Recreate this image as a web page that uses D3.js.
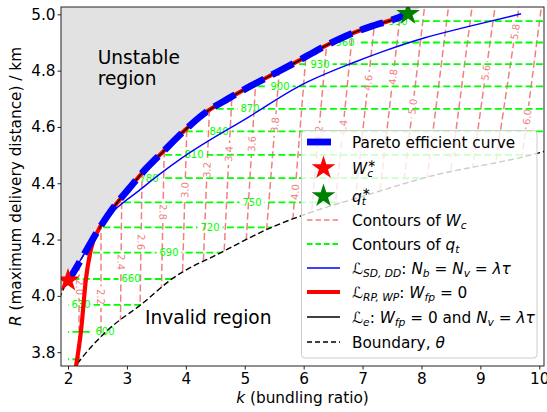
<!doctype html>
<html lang="en">

<head>
    <meta charset="UTF-8" />
    <script src="https://d3js.org/d3.v7.min.js"></script>
    <title>Pareto efficient curve</title>
    <style>
        body { margin: 0; background: #fff; }
        svg text { font-family: "DejaVu Sans", sans-serif; }
    </style>
</head>

<body>
    <div id="chart"></div>
    <script>
        // ---- data (k = bundling ratio, R = max delivery distance) ----
        const xTicks = [2, 3, 4, 5, 6, 7, 8, 9, 10]
        const yTicks = [3.8, 4.0, 4.2, 4.4, 4.6, 4.8, 5.0]

        // Pareto efficient curve (upper edge of the valid region)
        const paretoK = [1.983, 2.085, 2.306, 2.526, 2.764, 3.019, 3.290, 3.613, 3.935, 4.326, 4.716, 5.107, 5.497, 5.887, 6.278, 6.686, 7.127, 7.569, 7.772]
        const paretoR = [4.049, 4.081, 4.160, 4.238, 4.312, 4.377, 4.444, 4.512, 4.579, 4.650, 4.700, 4.746, 4.789, 4.832, 4.878, 4.920, 4.956, 4.985, 5.002]

        // L_SD,DD : N_b = N_v = lambda tau
        const sdK = [1.983, 2.306, 2.526, 3.290, 3.935, 5.073, 5.973, 6.839, 7.399, 8.044, 8.825, 9.691]
        const sdR = [4.049, 4.160, 4.238, 4.388, 4.490, 4.636, 4.750, 4.828, 4.872, 4.916, 4.958, 5.002]

        // L_RP,WP : lower branch, it then runs on the Pareto curve
        const rpK = [2.127, 2.221, 2.306, 2.390]
        const rpR = [3.739, 3.876, 4.063, 4.166]

        // Boundary theta (lower)
        const bndK = [2.068, 2.221, 2.662, 3.256, 3.783, 4.581, 5.430, 5.990, 7.025, 8.044, 9.997, 10.115]
        const bndR = [3.733, 3.776, 3.876, 3.972, 4.063, 4.152, 4.241, 4.287, 4.355, 4.419, 4.508, 4.515]

        // contours of q_t (horizontal)
        const qtLevels = [570, 600, 630, 660, 690, 720, 750, 780, 810, 840, 870, 900, 930, 960, 990]
        const qtR = [3.775, 3.872, 3.968, 4.060, 4.154, 4.243, 4.332, 4.418, 4.501, 4.584, 4.664, 4.744, 4.823, 4.900, 4.976]
        const qtLabelK = [null, 2.628, 2.221, 3.070, 3.715, 4.411, 5.124, 3.375, 4.139, 4.564, 5.090, 5.599, 6.278, 6.703, 7.603]

        // contours of W_c: k where each contour crosses R = 4.0 and R = 5.0, and label height
        const wcLevels = [2.0, 2.2, 2.4, 2.6, 2.8, 3.0, 3.2, 3.4, 3.6, 3.8, 4.0, 4.2, 4.4, 4.6, 4.8, 5.0, 5.2, 5.4, 5.6, 5.8, 6.0]
        const wcK40 = [2.187, 2.560, 2.895, 3.226, 3.584, 3.932, 4.275, 4.613, 4.969, 5.282, 5.713, 6.007, 6.384, 6.696, 7.090, 7.474, 7.847, 8.222, 8.564, 8.922, 9.402]
        const wcK50 = [2.187, 2.560, 2.942, 3.299, 3.679, 4.076, 4.465, 4.851, 5.255, 5.664, 6.095, 6.436, 6.861, 7.221, 7.640, 8.037, 8.443, 8.842, 9.231, 9.637, 10.019]
        const wcLabelR = [4.031, 3.996, 4.120, 4.191, 4.298, 4.376, 4.447, 4.504, 4.540, 4.607, 4.369, 4.576, 4.597, 4.757, 4.778, 4.672, 4.543, 4.518, 4.793, 4.938, 4.636]

        const starWc = [2.0, 4.055]
        const starQt = [7.772, 5.002]

        // ---- layout ----
        const W = 547, H = 412
        const margin = { top: 7, right: 3, bottom: 46, left: 61 }
        const width = W - margin.left - margin.right
        const height = H - margin.top - margin.bottom

        const x = d3.scaleLinear().domain([1.881, 10.08]).range([0, width])
        const y = d3.scaleLinear().domain([3.751, 5.026]).range([height, 0])

        const zip = (a, b) => a.map((v, i) => [v, b[i]])
        const pareto = zip(paretoK, paretoR)
        const line = d3.line().x(d => x(d[0])).y(d => y(d[1])).curve(d3.curveMonotoneX)
        const poly = d3.line().x(d => x(d[0])).y(d => y(d[1]))

        const svg = d3.select("#chart").append("svg")
            .attr("width", W).attr("height", H)
        const defs = svg.append("defs")
        const g = svg.append("g").attr("transform", `translate(${margin.left},${margin.top})`)

        defs.append("clipPath").attr("id", "plot")
            .append("rect").attr("width", width).attr("height", height)

        // valid region between the Pareto curve and the lower boundary, k >= 2
        const validPoly = [[2.0, 3.70]]
            .concat(zip(bndK, bndR))
            .concat([[10.3, 4.52], [10.3, 5.2], [8.2, 5.2], [8.05, 5.03]])
            .concat(pareto.filter(d => d[0] >= 2).reverse())
            .concat([[2.0, 4.055]])
        defs.append("clipPath").attr("id", "valid")
            .append("path").attr("d", poly(validPoly))

        const plot = g.append("g").attr("clip-path", "url(#plot)")

        // unstable region
        const grayPoly = [[1.85, 3.998]].concat(pareto).concat([[8.05, 5.03], [8.1, 5.2], [1.85, 5.2]])
        plot.append("path").attr("d", poly(grayPoly)).attr("fill", "#e2e2e2")

        // ---- contours ----
        const fsLab = 10
        const redMask = defs.append("mask").attr("id", "redMask").attr("maskUnits", "userSpaceOnUse")
            .attr("x", -10).attr("y", -10).attr("width", width + 20).attr("height", height + 20)
        redMask.append("rect").attr("x", -10).attr("y", -10).attr("width", width + 20).attr("height", height + 20).attr("fill", "white")
        const greenMask = defs.append("mask").attr("id", "greenMask").attr("maskUnits", "userSpaceOnUse")
            .attr("x", -10).attr("y", -10).attr("width", width + 20).attr("height", height + 20)
        greenMask.append("rect").attr("x", -10).attr("y", -10).attr("width", width + 20).attr("height", height + 20).attr("fill", "white")

        const contG = plot.append("g").attr("clip-path", "url(#valid)")
        const labG = plot.append("g")

        const wcAt = (i, R) => wcK40[i] + (wcK50[i] - wcK40[i]) * (R - 4.0)

        const redLines = contG.append("g").attr("mask", "url(#redMask)")
        wcLevels.forEach((lev, i) => {
            redLines.append("line")
                .attr("x1", x(wcAt(i, 3.65))).attr("y1", y(3.65))
                .attr("x2", x(wcAt(i, 5.1))).attr("y2", y(5.1))
                .attr("stroke", "lightcoral").attr("stroke-width", 1.5)
                .attr("stroke-dasharray", "7,3.3")

            const lx = x(wcAt(i, wcLabelR[i])), ly = y(wcLabelR[i])
            let ang = Math.atan2(y(5) - y(4), x(wcK50[i]) - x(wcK40[i])) * 180 / Math.PI
            if (lev <= 2.8) ang += 180
            const t = labG.append("text")
                .attr("transform", `translate(${lx},${ly}) rotate(${ang})`)
                .attr("text-anchor", "middle").attr("dy", "0.35em")
                .attr("font-size", fsLab).attr("fill", "lightcoral")
                .text(lev.toFixed(1))
            const tw = t.node().getComputedTextLength()
            redMask.append("rect")
                .attr("transform", `translate(${lx},${ly}) rotate(${ang})`)
                .attr("x", -tw / 2 - 3).attr("y", -4.5).attr("width", tw + 6).attr("height", 9)
                .attr("fill", "black")
        })

        const greenLines = contG.append("g").attr("mask", "url(#greenMask)")
        qtLevels.forEach((lev, i) => {
            greenLines.append("line")
                .attr("x1", x(1.9)).attr("y1", y(qtR[i]))
                .attr("x2", x(10.3)).attr("y2", y(qtR[i]))
                .attr("stroke", "#00ff00").attr("stroke-width", 1.8)
                .attr("stroke-dasharray", "7,3.3")
            if (qtLabelK[i] === null) return
            const lx = x(qtLabelK[i]), ly = y(qtR[i])
            const t = labG.append("text")
                .attr("x", lx).attr("y", ly).attr("dy", "0.35em")
                .attr("text-anchor", "middle")
                .attr("font-size", fsLab).attr("fill", "#00ff00")
                .text(lev)
            const tw = t.node().getComputedTextLength()
            greenMask.append("rect")
                .attr("x", lx - tw / 2 - 3).attr("y", ly - 4).attr("width", tw + 6).attr("height", 8)
                .attr("fill", "black")
        })

        // ---- curves ----
        // lower boundary theta
        plot.append("path").attr("d", line(zip(bndK, bndR)))
            .attr("fill", "none").attr("stroke", "black").attr("stroke-width", 1.4)
            .attr("stroke-dasharray", "6,3")
        // upper boundary (edge of unstable region)
        plot.append("path").attr("d", line([[1.85, 3.99]].concat(pareto.slice(0, 4))))
            .attr("fill", "none").attr("stroke", "black").attr("stroke-width", 1.4)
            .attr("stroke-dasharray", "6,3")

        // L_SD,DD
        plot.append("path").attr("d", line(zip(sdK, sdR)))
            .attr("fill", "none").attr("stroke", "#0000ff").attr("stroke-width", 1.4)

        // L_RP,WP
        plot.append("path").attr("d", line(zip(rpK, rpR).concat(pareto.slice(3))))
            .attr("fill", "none").attr("stroke", "#ff0000").attr("stroke-width", 4.2)

        // L_e
        plot.append("path").attr("d", line(pareto.slice(3)))
            .attr("fill", "none").attr("stroke", "black").attr("stroke-width", 1.4)

        // Pareto efficient curve
        plot.append("path").attr("d", line(pareto))
            .attr("fill", "none").attr("stroke", "#0000ff").attr("stroke-width", 6.8)
            .attr("stroke-dasharray", "24,9")

        // optima
        const star = d3.symbol().type(d3.symbolStar).size(175)
        plot.append("path").attr("d", star())
            .attr("transform", `translate(${x(starWc[0])},${y(starWc[1])})`).attr("fill", "#ff0000")
        plot.append("path").attr("d", star())
            .attr("transform", `translate(${x(starQt[0])},${y(starQt[1])})`).attr("fill", "#008000")

        // region annotations
        const ann = g.append("text").attr("font-size", 18.6).attr("fill", "black")
        ann.append("tspan").attr("x", 36.7).attr("y", 56.5).text("Unstable")
        ann.append("tspan").attr("x", 36.7).attr("y", 78).text("region")
        g.append("text").attr("x", 84).attr("y", 317).attr("font-size", 18.6).text("Invalid region")

        // ---- axes ----
        const fs = 15.3
        const xAxis = g.append("g").attr("transform", `translate(0,${height})`)
            .call(d3.axisBottom(x).tickValues(xTicks).tickFormat(d3.format("d")).tickSize(3.5).tickPadding(3.5))
        const yAxis = g.append("g")
            .call(d3.axisLeft(y).tickValues(yTicks).tickFormat(d3.format(".1f")).tickSize(3.5).tickPadding(2))
        ;[xAxis, yAxis].forEach(a => {
            a.select(".domain").remove()
            a.attr("font-size", fs).attr("font-family", "DejaVu Sans, sans-serif")
            a.selectAll("line").attr("stroke", "#222")
            a.selectAll("text").attr("fill", "black")
        })

        g.append("rect").attr("width", width).attr("height", height)
            .attr("fill", "none").attr("stroke", "#222").attr("stroke-width", 1)

        const xl = g.append("text").attr("x", width / 2).attr("y", 396)
            .attr("text-anchor", "middle").attr("font-size", fs)
        xl.append("tspan").attr("font-style", "italic").text("k")
        xl.append("tspan").text(" (bundling ratio)")

        const yl = g.append("text").attr("transform", `translate(${21.3 - margin.left},${height / 2}) rotate(-90)`)
            .attr("text-anchor", "middle").attr("font-size", fs)
        yl.append("tspan").attr("font-style", "italic").text("R")
        yl.append("tspan").text(" (maximum delivery distance) / km")

        // ---- legend ----
        const lg = svg.append("g")
        lg.append("rect").attr("x", 301.5).attr("y", 130.5).attr("width", 235.5).attr("height", 227.5)
            .attr("rx", 3.5).attr("fill", "white").attr("fill-opacity", 0.8)
            .attr("stroke", "#cccccc").attr("stroke-width", 1)

        function rich(sel, x0, y0, parts, size) {
            let cx = x0
            parts.forEach(p => {
                const small = p.s === "sub" || p.s === "sup"
                const dy = p.s === "sub" ? size * 0.22 : p.s === "sup" ? -size * 0.42 : 0
                const t = sel.append("text").attr("x", cx).attr("y", y0 + dy)
                    .attr("font-size", small ? size * 0.7 : size)
                    .attr("font-style", p.i ? "italic" : "normal")
                    .style("white-space", "pre")
                    .text(p.t)
                if (!p.stack) cx += t.node().getComputedTextLength()
            })
        }

        const rowY = [142, 168, 196, 220, 244, 268, 292, 317, 342]
        const hx0 = 307, hx1 = 340, tx = 352
        const items = [
            { h: "pareto", parts: [{ t: "Pareto efficient curve" }] },
            { h: "starWc", parts: [{ t: "W", i: 1 }, { t: "∗", s: "sup", stack: 1 }, { t: "c", i: 1, s: "sub" }] },
            { h: "starQt", parts: [{ t: "q", i: 1 }, { t: "∗", s: "sup", stack: 1 }, { t: "t", i: 1, s: "sub" }] },
            { h: "wc", parts: [{ t: "Contours of " }, { t: "W", i: 1 }, { t: "c", i: 1, s: "sub" }] },
            { h: "qt", parts: [{ t: "Contours of " }, { t: "q", i: 1 }, { t: "t", i: 1, s: "sub" }] },
            { h: "sd", parts: [{ t: "ℒ" }, { t: "SD, DD", i: 1, s: "sub" }, { t: ": " }, { t: "N", i: 1 }, { t: "b", i: 1, s: "sub" }, { t: " = " }, { t: "N", i: 1 }, { t: "v", i: 1, s: "sub" }, { t: " = " }, { t: "λτ", i: 1 }] },
            { h: "rp", parts: [{ t: "ℒ" }, { t: "RP, WP", i: 1, s: "sub" }, { t: ": " }, { t: "W", i: 1 }, { t: "fp", i: 1, s: "sub" }, { t: " = 0" }] },
            { h: "le", parts: [{ t: "ℒ" }, { t: "e", i: 1, s: "sub" }, { t: ": " }, { t: "W", i: 1 }, { t: "fp", i: 1, s: "sub" }, { t: " = 0 and " }, { t: "N", i: 1 }, { t: "v", i: 1, s: "sub" }, { t: " = " }, { t: "λτ", i: 1 }] },
            { h: "bnd", parts: [{ t: "Boundary, " }, { t: "θ", i: 1 }] }
        ]
        const handleStyle = {
            pareto: ["#0000ff", 6.8, "24,9"],
            wc: ["lightcoral", 1.5, "5.5,3"],
            qt: ["#00ff00", 1.8, "5.5,3"],
            sd: ["#0000ff", 1.4, null],
            rp: ["#ff0000", 4.2, null],
            le: ["black", 1.4, null],
            bnd: ["black", 1.4, "5,3"]
        }
        items.forEach((it, i) => {
            const yy = rowY[i]
            if (it.h === "starWc" || it.h === "starQt") {
                lg.append("path").attr("d", star())
                    .attr("transform", `translate(${(hx0 + hx1) / 2},${yy})`)
                    .attr("fill", it.h === "starWc" ? "#ff0000" : "#008000")
            } else {
                const [c, w, da] = handleStyle[it.h]
                lg.append("line").attr("x1", hx0).attr("x2", hx1).attr("y1", yy).attr("y2", yy)
                    .attr("stroke", c).attr("stroke-width", w).attr("stroke-dasharray", da)
            }
            rich(lg, tx, yy + 5.5, it.parts, fs)
        })
    </script>
</body>

</html>
